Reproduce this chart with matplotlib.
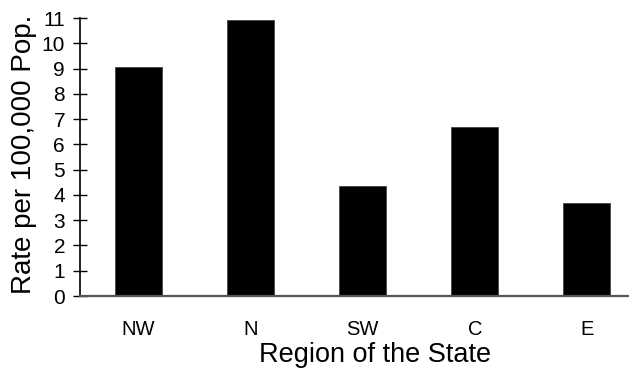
import matplotlib
matplotlib.use('Agg')
import matplotlib.pyplot as plt
import numpy as np

# Regions of the state and rates per 100,000 population
regions = ['NW', 'N', 'SW', 'C', 'E']
rates = [9.07, 10.92, 4.37, 6.69, 3.67]
yticks = list(range(0, 12))

plt.rcParams['font.family'] = ['Liberation Sans', 'DejaVu Sans']

fig = plt.figure(figsize=(6.29, 3.69), dpi=100)
ax = fig.add_axes([80 / 629, 73 / 369, 549 / 629, 278 / 369])

x = np.arange(len(regions))
ax.bar(x, rates, width=0.42, color='black', edgecolor='#444444', linewidth=0.6)

ax.set_xlim(-0.522, 4.376)
ax.set_ylim(0, 11)
ax.set_yticks(yticks)
ax.set_xticks(x)
ax.set_xticklabels(regions)

for side in ['top', 'right']:
    ax.spines[side].set_visible(False)
ax.spines['left'].set_color('black')
ax.spines['left'].set_linewidth(1.2)
ax.spines['bottom'].set_color('#555555')
ax.spines['bottom'].set_linewidth(1.6)

ax.tick_params(axis='y', direction='inout', length=9.5, width=1.0, pad=6,
               labelsize=15, colors='black')
ax.tick_params(axis='x', length=0, pad=17, labelsize=14.5)

ax.set_xlabel('Region of the State', fontsize=19.5, va='center')
ax.xaxis.set_label_coords(0.537, -0.212)
ax.set_ylabel('Rate per 100,000 Pop.', fontsize=20, va='center')
ax.yaxis.set_label_coords(-0.102, 0.511)

fig.savefig('out.png', dpi=100)
